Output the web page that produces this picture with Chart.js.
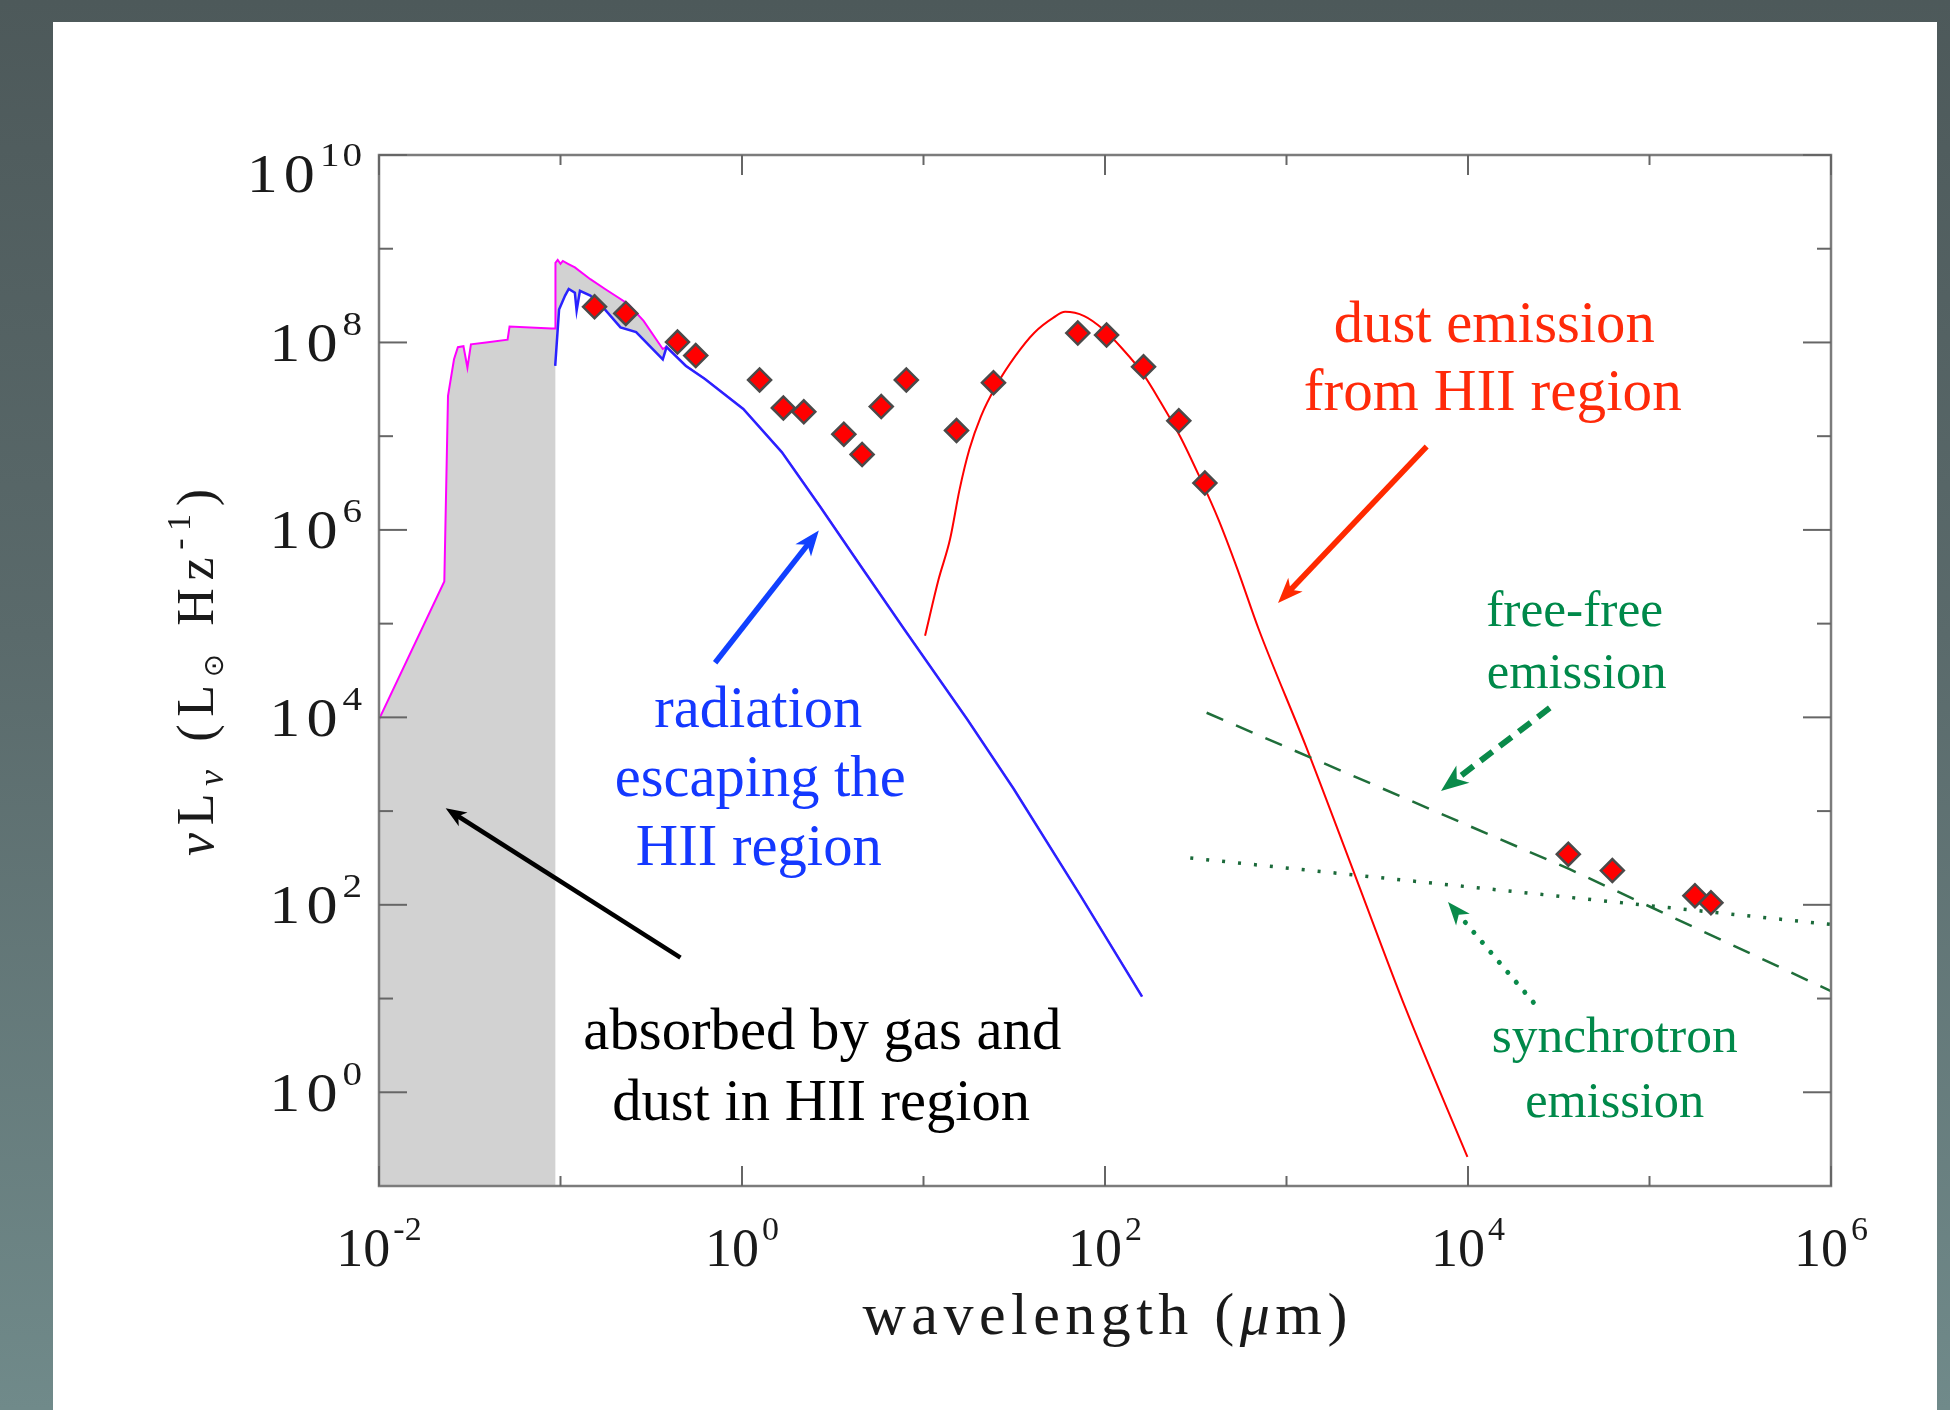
<!DOCTYPE html>
<html><head><meta charset="utf-8">
<script src="https://cdn.jsdelivr.net/npm/chart.js@4.4.1/dist/chart.umd.min.js"></script>
<style>
html,body{margin:0;padding:0;width:1950px;height:1410px;overflow:hidden;
  background:linear-gradient(to bottom,#4d595a 0%,#5a6a6b 45%,#708a8a 100%);}
#panel{position:absolute;left:53px;top:22px;width:1884px;height:1388px;background:#ffffff;}
#c{position:absolute;left:0;top:0;}
</style></head><body>
<div id="panel"></div>
<canvas id="c" width="1950" height="1410"></canvas>
<script>
// ---------------- data (wavelength in micron, nuL_nu in L_sun) ----------------
const incidentWl  = [0.0100, 0.0229, 0.0240, 0.0259, 0.0272, 0.0292, 0.0307, 0.0321, 0.0389, 0.0511, 0.0524, 0.0893, 0.0933, 0.0938, 0.0965, 0.100, 0.103, 0.110, 0.120, 0.146, 0.176, 0.236, 0.287, 0.366, 0.384, 0.491, 0.625, 1.016, 1.656, 2.69, 4.38, 7.83, 17.4, 31.3, 73.1, 160];
const incidentLum = [9550, 2.82e5, 2.69e7, 6.61e7, 8.91e7, 9.12e7, 5.37e7, 9.55e7, 1.00e8, 1.07e8, 1.48e8, 1.41e8, 1.41e8, 7.08e8, 7.6e8, 6.9e8, 7.4e8, 6.9e8, 6.31e8, 4.73e8, 3.72e8, 2.57e8, 1.70e8, 8.51e7, 9.0e7, 5.62e7, 4.07e7, 1.95e7, 6.76e6, 1.78e6, 4.47e5, 8.71e4, 9550, 1740, 126, 10.5];

const escapingWl  = [0.0935, 0.0982, 0.106, 0.111, 0.120, 0.1227, 0.128, 0.146, 0.176, 0.214, 0.261, 0.366, 0.384, 0.491, 0.625, 1.016, 1.656, 2.69, 4.38, 7.83, 17.4, 31.3, 73.1, 160];
const escapingLum = [5.62e7, 2.24e8, 3.16e8, 3.72e8, 3.39e8, 2.19e8, 3.55e8, 3.16e8, 2.24e8, 1.45e8, 1.29e8, 6.61e7, 8.91e7, 5.62e7, 4.07e7, 1.95e7, 6.76e6, 1.78e6, 4.47e5, 8.71e4, 9550, 1740, 126, 10.5];

const dustWl  = [10.2, 12.1, 14.0, 15.8, 17.9, 20.7, 25.1, 32.1, 40.8, 52.0, 60.3, 76.9, 97.7, 125, 160, 203, 259, 331, 422, 537, 703, 1280, 2400, 4520, 9930];
const dustLum = [7.41e4, 2.95e5, 7.94e5, 2.69e6, 7.24e6, 1.62e7, 3.43e7, 7.18e7, 1.27e8, 1.84e8, 2.12e8, 1.91e8, 1.38e8, 8.51e7, 4.79e7, 2.29e7, 1.0e7, 3.72e6, 1.29e6, 3.80e5, 8.71e4, 4900, 200, 7.94, 0.204];

const freeFreeWl  = [363, 3.63e4, 1e6];
const freeFreeLum = [1.12e4, 240, 12.0];

const synchWl  = [295, 1e6];
const synchLum = [316, 61.7];

const obsWl  = [0.154, 0.229, 0.441, 0.556, 1.25, 1.69, 2.19, 3.64, 4.59, 5.85, 8.04, 15.2, 24.3, 70.8, 102, 163, 255, 355, 3.57e4, 6.24e4, 1.78e5, 2.18e5];
const obsLum = [2.40e8, 2.04e8, 1.01e8, 7.24e7, 3.98e7, 2.0e7, 1.82e7, 1.05e7, 6.38e6, 2.07e7, 3.98e7, 1.15e7, 3.72e7, 1.26e8, 1.20e8, 5.50e7, 1.46e7, 3.16e6, 347, 232, 125, 105];

// ticks
const xMajorTicks = [0.01, 1, 100, 1e4, 1e6];
const xMinorTicks = [0.1, 10, 1000, 1e5];
const xTickExps   = ['-2', '0', '2', '4', '6'];
const yMajorTicks = [1, 100, 1e4, 1e6, 1e8, 1e10];
const yMinorTicks = [10, 1e3, 1e5, 1e7, 1e9];
const yTickExps   = ['0', '2', '4', '6', '8', '10'];

// annotations (anchored in data coordinates)
const noteTexts = [
  {lines:['dust emission', 'from HII region'], at:[[13950, 1.0e8], [13700, 1.89e7]], widths:[321, 378], color:'#ff2a0a'},
  {lines:['free-free', 'emission'], at:[[38700, 9.5e4], [39700, 2.07e4]], widths:[177, 180], color:'#00894a'},
  {lines:['radiation', 'escaping the', 'HII region'], at:[[1.228, 7940], [1.259, 1450], [1.238, 266]], widths:[208, 291, 246], color:'#1438ff'},
  {lines:['absorbed by gas and', 'dust in HII region'], at:[[2.77, 2.88], [2.73, 0.502]], widths:[478, 418], color:'#000000'},
  {lines:['synchrotron', 'emission'], at:[[64300, 2.67], [64300, 0.541]], widths:[246, 179], color:'#00894a'}
];
const noteArrows = [
  {from:[0.458, 27.3],  to:[0.0233, 1070],  color:'#000000', width:4.5, dash:null},
  {from:[0.711, 3.83e4], to:[2.65, 9.86e5], color:'#1040ff', width:5.5, dash:null},
  {from:[5920, 7.76e6], to:[898, 1.66e5],   color:'#ff2a00', width:5.5, dash:null},
  {from:[2.82e4, 1.26e4], to:[7100, 1640],  color:'#0a8a4a', width:6, dash:[15, 9]},
  {from:[2.29e4, 9.12], to:[7760, 107],     color:'#0a8a4a', width:5, dash:[0.1, 13], round:true}
];

// ---------------- drawing ----------------
const FONT = '"Liberation Serif","Times New Roman",serif';
const xy = (xs, ys) => xs.map((x, i) => ({x: x, y: ys[i]}));

function drawRich(ctx, segs, x, y, ls) {
  for (const s of segs) {
    ctx.font = s.font;
    for (const ch of s.t) {
      ctx.fillText(ch, x, y + (s.dy || 0));
      x += ctx.measureText(ch).width + ls;
    }
  }
}
function richWidth(ctx, segs) {
  let w = 0, n = 0;
  for (const s of segs) { ctx.font = s.font; for (const ch of s.t) { w += ctx.measureText(ch).width; n++; } }
  return {w, n};
}
// draws a string glyph by glyph, widening each glyph by sx and adding gap; returns width
function wideText(ctx, text, x, y, sx, gap, draw) {
  let cx = x;
  for (const ch of text) {
    const w = ctx.measureText(ch).width;
    if (draw) { ctx.save(); ctx.translate(cx, y); ctx.scale(sx, 1); ctx.fillText(ch, 0, 0); ctx.restore(); }
    cx += w * sx + gap;
  }
  return cx - x - gap;
}
function drawArrow(ctx, x1, y1, x2, y2, a) {
  const ang = Math.atan2(y2 - y1, x2 - x1);
  const hl = a.width * 4.6, hw = a.width * 3.6;
  const c = Math.cos(ang), s = Math.sin(ang);
  const bx = x2 - hl * c, by = y2 - hl * s;
  ctx.save();
  ctx.strokeStyle = a.color; ctx.fillStyle = a.color; ctx.lineWidth = a.width;
  ctx.lineCap = a.round ? 'round' : 'butt';
  ctx.setLineDash(a.dash || []);
  ctx.beginPath(); ctx.moveTo(x1, y1); ctx.lineTo(x2 - hl * 0.6 * c, y2 - hl * 0.6 * s); ctx.stroke();
  ctx.setLineDash([]);
  ctx.beginPath();
  ctx.moveTo(x2, y2);
  ctx.lineTo(bx + hw / 2 * s, by - hw / 2 * c);
  ctx.lineTo(x2 - hl * 0.72 * c, y2 - hl * 0.72 * s);
  ctx.lineTo(bx - hw / 2 * s, by + hw / 2 * c);
  ctx.closePath(); ctx.fill();
  ctx.restore();
}

const decorPlugin = {
  id: 'decor',
  afterDatasetsDraw(chart) {
    const {ctx, chartArea: a, scales} = chart;
    const X = scales.x, Y = scales.y;
    ctx.save();
    // frame
    ctx.strokeStyle = '#7c7c7c'; ctx.lineWidth = 2.5;
    ctx.strokeRect(a.left, a.top, a.right - a.left, a.bottom - a.top);
    // ticks
    ctx.strokeStyle = '#666666'; ctx.lineWidth = 2;
    const seg = (x1, y1, x2, y2) => { ctx.beginPath(); ctx.moveTo(x1, y1); ctx.lineTo(x2, y2); ctx.stroke(); };
    xMajorTicks.forEach(v => { const p = X.getPixelForValue(v); seg(p, a.bottom, p, a.bottom - 20); seg(p, a.top, p, a.top + 20); });
    xMinorTicks.forEach(v => { const p = X.getPixelForValue(v); seg(p, a.bottom, p, a.bottom - 10); seg(p, a.top, p, a.top + 10); });
    yMajorTicks.forEach(v => { const p = Y.getPixelForValue(v); seg(a.left, p, a.left + 28, p); seg(a.right, p, a.right - 28, p); });
    yMinorTicks.forEach(v => { const p = Y.getPixelForValue(v); seg(a.left, p, a.left + 14, p); seg(a.right, p, a.right - 14, p); });

    // tick labels
    ctx.fillStyle = '#1a1a1a'; ctx.textBaseline = 'alphabetic'; ctx.textAlign = 'left';
    const baseFont = `54px ${FONT}`, expFont = `34px ${FONT}`;
    const powLabel = (exp, xPos, baseY, align, sx, gapIn, gap) => {
      ctx.font = baseFont; const wb = wideText(ctx, '10', 0, 0, sx, gapIn, false);
      ctx.font = expFont; const we = wideText(ctx, exp, 0, 0, sx, gapIn * 0.5, false);
      const total = wb + gap + we;
      const x0 = align === 'center' ? xPos - total / 2 : xPos - total;
      ctx.font = baseFont; wideText(ctx, '10', x0, baseY, sx, gapIn, true);
      ctx.font = expFont; wideText(ctx, exp, x0 + wb + gap, baseY - 26, sx, gapIn * 0.5, true);
    };
    xMajorTicks.forEach((v, i) => powLabel(xTickExps[i], X.getPixelForValue(v), a.bottom + 80, 'center', 1.0, 0, 3));
    yMajorTicks.forEach((v, i) => {
      const p = Y.getPixelForValue(v);
      powLabel(yTickExps[i], a.left - 17, Math.max(p + 18.3, a.top + 36.5), 'right', 1.15, 6, 5);
    });

    // x title
    const xSegs = [{t:'wavelength (', font:`60px ${FONT}`}, {t:'\u03bc', font:`italic 60px ${FONT}`}, {t:'m)', font:`60px ${FONT}`}];
    let m = richWidth(ctx, xSegs); const xTarget = 485;
    drawRich(ctx, xSegs, (a.left + a.right) / 2 - xTarget / 2, a.bottom + 147.5, (xTarget - m.w) / (m.n - 1));

    // y title (rotated)
    const ySegs = [
      {t:'\u03bd', font:`italic 52px ${FONT}`},
      {t:'L', font:`52px ${FONT}`},
      {t:'\u03bd', font:`italic 36px ${FONT}`, dy:10},
      {t:' (', font:`52px ${FONT}`},
      {t:'L', font:`52px ${FONT}`},
      {t:'\u2299', font:`28px "DejaVu Sans",sans-serif`, dy:10},
      {t:' Hz', font:`52px ${FONT}`},
      {t:'-1', font:`34px ${FONT}`, dy:-23},
      {t:')', font:`52px ${FONT}`}
    ];
    m = richWidth(ctx, ySegs); const yTarget = 367;
    ctx.save();
    ctx.translate(a.left - 166, (a.top + a.bottom) / 2 + 2);
    ctx.rotate(-Math.PI / 2);
    drawRich(ctx, ySegs, -yTarget / 2, 0, (yTarget - m.w) / (m.n - 1));
    ctx.restore();

    // annotation arrows
    noteArrows.forEach(ar => drawArrow(ctx,
      X.getPixelForValue(ar.from[0]), Y.getPixelForValue(ar.from[1]),
      X.getPixelForValue(ar.to[0]), Y.getPixelForValue(ar.to[1]), ar));

    // annotation texts
    ctx.textAlign = 'center';
    noteTexts.forEach(n => {
      ctx.fillStyle = n.color;
      n.lines.forEach((t, i) => {
        ctx.font = `100px ${FONT}`;
        const w = ctx.measureText(t).width;
        const size = 100 * n.widths[i] / w;
        ctx.font = `${size}px ${FONT}`;
        ctx.fillText(t, X.getPixelForValue(n.at[i][0]), Y.getPixelForValue(n.at[i][1]));
      });
    });
    ctx.restore();
  }
};

new Chart(document.getElementById('c'), {
  type: 'line',
  data: {
    datasets: [
      {label:'incident stellar spectrum', data: xy(incidentWl, incidentLum), borderColor:'#ff00ff', borderWidth:2,
       pointRadius:0, fill:{value:0.1}, backgroundColor:'#d2d2d2', order:6},
      {label:'radiation escaping the HII region', data: xy(escapingWl, escapingLum), borderColor:'#2a22ff', borderWidth:2.5,
       pointRadius:0, fill:{value:0.1}, backgroundColor:'#ffffff', order:5},
      {label:'dust emission', data: xy(dustWl, dustLum), borderColor:'#ff0000', borderWidth:2,
       pointRadius:0, fill:false, cubicInterpolationMode:'monotone', order:4},
      {label:'free-free emission', data: xy(freeFreeWl, freeFreeLum), borderColor:'#1f6e3a', borderWidth:2.5,
       borderDash:[18, 14], pointRadius:0, fill:false, order:3},
      {label:'synchrotron emission', data: xy(synchWl, synchLum), borderColor:'#1b6a3a', borderWidth:3.5,
       borderDash:[3, 13], pointRadius:0, fill:false, order:2},
      {label:'observed', data: xy(obsWl, obsLum), showLine:false, pointStyle:'rectRot', pointRadius:11.5,
       pointBackgroundColor:'#ff0000', pointBorderColor:'#4a4a4a', pointBorderWidth:2.5,
       backgroundColor:'#ff0000', borderColor:'#4a4a4a', fill:false, order:1}
    ]
  },
  options: {
    responsive:false, animation:false, devicePixelRatio:1,
    layout:{padding:{left:379, right:119, top:155, bottom:224}},
    elements:{line:{tension:0}},
    scales:{
      x:{type:'logarithmic', min:0.01, max:1e6, display:false},
      y:{type:'logarithmic', min:0.1, max:1e10, display:false}
    },
    plugins:{legend:{display:false}, tooltip:{enabled:false}}
  },
  plugins:[decorPlugin]
});
</script>
</body></html>
